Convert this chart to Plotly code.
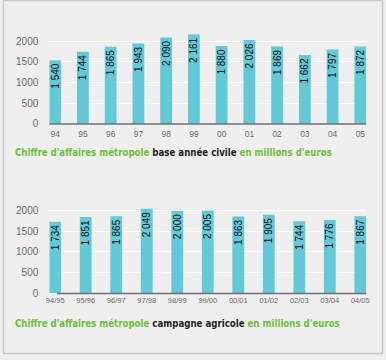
import plotly.graph_objects as go

W, H = 386, 360

years_civil = ["94", "95", "96", "97", "98", "99", "00", "01", "02", "03", "04", "05"]
ca_civil = [1540, 1744, 1865, 1943, 2090, 2161, 1880, 2026, 1869, 1662, 1797, 1872]

years_campaign = ["94/95", "95/96", "96/97", "97/98", "98/99", "99/00", "00/01",
                  "01/02", "02/03", "03/04", "04/05"]
ca_campaign = [1734, 1851, 1865, 2049, 2000, 2005, 1863, 1905, 1744, 1776, 1867]

y_ticks = [0, 500, 1000, 1500, 2000]

BAR = "#62c9d9"
GREEN = "#6dbf3c"
DARK = "#1e1e1e"
TICK = "#6a6a6a"
BG = "#efefef"


def px_x(p):
    return p / W


def px_y(p):
    return (H - p) / H


def fmt(v):
    return f"{v:,}".replace(",", " ")


bar_text_font = dict(family="Liberation Sans", size=10, color="#111")

fig = go.Figure()

fig.add_trace(go.Bar(
    x=years_civil, y=ca_civil, xaxis="x", yaxis="y",
    marker=dict(color=BAR, line=dict(width=0)),
    width=0.425,
    text=[fmt(v) for v in ca_civil],
    textposition="inside", insidetextanchor="end", textangle=-90,
    textfont=bar_text_font,
    hoverinfo="skip",
))
fig.add_trace(go.Bar(
    x=years_campaign, y=ca_campaign, xaxis="x2", yaxis="y2",
    marker=dict(color=BAR, line=dict(width=0)),
    width=0.387,
    text=[fmt(v) for v in ca_campaign],
    textposition="inside", insidetextanchor="end", textangle=-90,
    textfont=bar_text_font,
    hoverinfo="skip",
))

axis_font = dict(family="Liberation Sans", size=10, color=TICK)

fig.update_layout(
    width=W, height=H,
    margin=dict(l=0, r=0, t=0, b=0),
    paper_bgcolor=BG, plot_bgcolor=BG,
    showlegend=False,
    uniformtext=dict(minsize=10, mode="show"),
    xaxis=dict(domain=[px_x(47), px_x(369)], anchor="y",
               range=[-0.2125, 11.2125], showgrid=False, showline=False,
               ticks="", tickfont=dict(family="Liberation Sans", size=8.5, color=TICK),
               ticklabelstandoff=4, fixedrange=True),
    yaxis=dict(domain=[px_y(126), px_y(25)], anchor="x",
               range=[0, 2400], tickvals=y_ticks, showgrid=True,
               gridcolor="#ffffff", gridwidth=1, zeroline=False,
               showline=False, ticks="", tickfont=axis_font,
               ticklabelstandoff=10, fixedrange=True),
    xaxis2=dict(domain=[px_x(47), px_x(369)], anchor="y2",
                range=[-0.194, 10.194], showgrid=False, showline=False,
                ticks="", tickfont=dict(family="Liberation Sans", size=7.5, color=TICK),
                ticklabelstandoff=1, fixedrange=True),
    yaxis2=dict(domain=[px_y(298), px_y(194)], anchor="x2",
                range=[0, 2500 * 0.995], tickvals=y_ticks, showgrid=True,
                gridcolor="#ffffff", gridwidth=1, zeroline=False,
                showline=False, ticks="", tickfont=axis_font,
                ticklabelstandoff=10, fixedrange=True),
)

shapes = [
    dict(type="line", xref="paper", yref="paper",
         x0=px_x(47), x1=px_x(369), y0=px_y(126), y1=px_y(126),
         line=dict(color="#707070", width=1.5)),
    dict(type="line", xref="paper", yref="paper",
         x0=px_x(55), x1=px_x(369), y0=px_y(298.5), y1=px_y(298.5),
         line=dict(color="#707070", width=1.5)),
    dict(type="rect", xref="paper", yref="paper",
         x0=px_x(0.5), x1=px_x(385.5), y0=px_y(359.5), y1=px_y(0.5),
         line=dict(color="#c8c8c8", width=1.5)),
]
fig.update_layout(shapes=shapes)

title_font = dict(family="DejaVu Sans Condensed", size=9.6, color=GREEN)


def title(label, ypx):
    txt = (f"<b>Chiffre d'affaires métropole <span style='color:{DARK}'>{label}</span>"
           f" en millions d'euros</b>")
    fig.add_annotation(xref="paper", yref="paper", x=px_x(10), y=px_y(ypx),
                       xanchor="left", yanchor="middle", showarrow=False,
                       text=txt, font=title_font)


title("base année civile", 155)
title("campagne agricole", 329)

fig.write_html(
    "out.html",
    config={"displayModeBar": False},
    post_script=(
        "var s=document.createElement('style');"
        "s.textContent='html,body{margin:0;padding:0;overflow:hidden;scrollbar-width:none;}"
        "::-webkit-scrollbar{display:none;width:0;height:0;}';"
        "document.head.appendChild(s);"
        "document.documentElement.style.overflow='hidden';"
        "document.body.style.margin='0';"
        "document.body.style.overflow='hidden';"
        "void document.body.offsetWidth;"
        "window.scrollTo(0,0);"
        "Plotly.Plots.resize(document.getElementsByClassName('plotly-graph-div')[0]);"
    ),
)
